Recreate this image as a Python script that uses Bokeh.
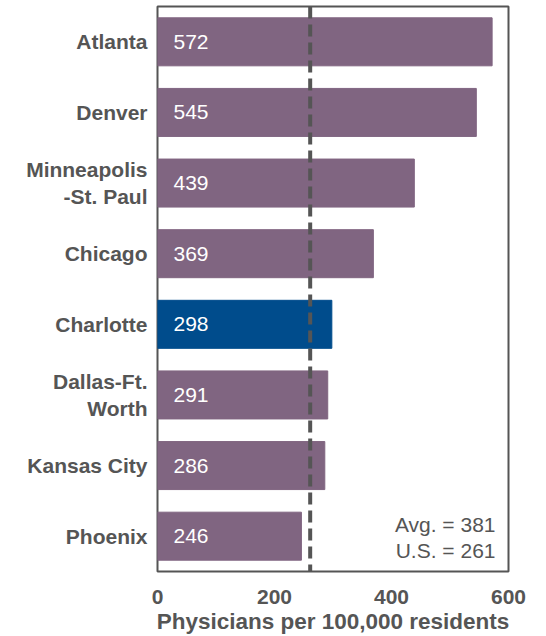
from bokeh.plotting import figure
from bokeh.models import ColumnDataSource, Span, Label, FixedTicker, Range1d
from bokeh.core.properties import value
from bokeh.embed import file_html
from bokeh.resources import INLINE

cities = ["Atlanta", "Denver", "Minneapolis\n-St. Paul", "Chicago", "Charlotte",
          "Dallas-Ft.\nWorth", "Kansas City", "Phoenix"]
physicians = [572, 545, 439, 369, 298, 291, 286, 246]
highlight = "Charlotte"
avg_value = 381
us_value = 261
x_ticks = [0, 200, 400, 600]

PURPLE = "#806581"
BLUE = "#004c8c"
GRAY = "#555555"
FONT = "Liberation Sans"

idx = list(range(len(cities)))
colors = [BLUE if c == highlight else PURPLE for c in cities]
src = ColumnDataSource(dict(y=idx, v=physicians, c=colors,
                            lab=[str(v) for v in physicians]))

p = figure(width=546, height=636, output_backend="svg", toolbar_location=None,
           x_range=Range1d(0, 600), y_range=Range1d(len(cities) - 0.5, -0.5),
           min_border_left=157, min_border_right=38, min_border_top=6,
           min_border_bottom=65)

p.hbar(y="y", left=0, right="v", height=0.68, color="c", source=src)
p.text(x=0, y="y", text="lab", source=src, x_offset=16, text_baseline="middle",
       text_color="white", text_font=value(FONT), text_font_size="21px")

p.add_layout(Span(location=us_value, dimension="height", line_color=GRAY,
                  line_width=4, line_dash="12 6"))

p.add_layout(Label(x=600, y=len(cities) - 1, x_offset=-13, y_offset=12,
                   text="Avg. = %d" % avg_value, text_align="right",
                   text_baseline="middle", text_color=GRAY,
                   text_font=FONT, text_font_size="21px"))
p.add_layout(Label(x=600, y=len(cities) - 1, x_offset=-13, y_offset=-14,
                   text="U.S. = %d" % us_value, text_align="right",
                   text_baseline="middle", text_color=GRAY,
                   text_font=FONT, text_font_size="21px"))

p.xgrid.visible = False
p.ygrid.visible = False
p.outline_line_color = GRAY
p.outline_line_width = 2

p.yaxis.ticker = FixedTicker(ticks=idx)
p.yaxis.major_label_overrides = {i: c for i, c in zip(idx, cities)}
p.xaxis.ticker = FixedTicker(ticks=x_ticks)

for ax in (p.xaxis[0], p.yaxis[0]):
    ax.axis_line_color = None
    ax.major_tick_line_color = None
    ax.minor_tick_line_color = None
    ax.major_tick_out = 0
    ax.major_tick_in = 0
    ax.minor_tick_out = 0
    ax.minor_tick_in = 0
    ax.major_label_text_font = FONT
    ax.major_label_text_font_style = "bold"
    ax.major_label_text_color = GRAY
    ax.major_label_text_font_size = "21px"

p.yaxis.major_label_standoff = 10
p.xaxis.major_label_standoff = 18
p.xaxis.axis_label = "Physicians per 100,000 residents"
p.xaxis.axis_label_text_font = FONT
p.xaxis.axis_label_text_font_style = "bold"
p.xaxis.axis_label_text_color = GRAY
p.xaxis.axis_label_text_font_size = "22.5px"
p.xaxis.axis_label_standoff = 2

open("out.html", "w").write(file_html(p, INLINE))
